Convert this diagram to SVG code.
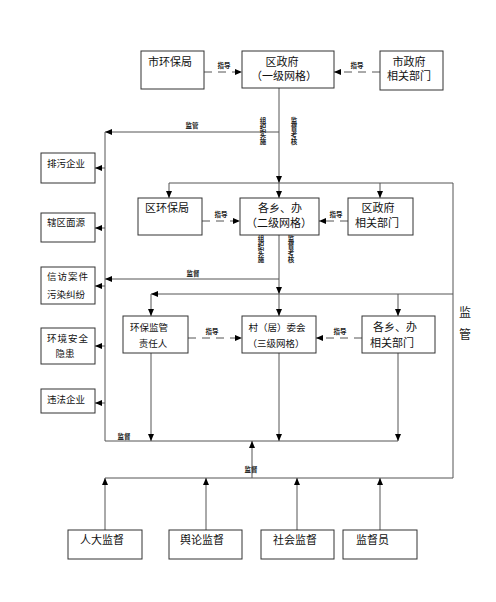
<svg xmlns="http://www.w3.org/2000/svg" width="496" height="602" viewBox="0 0 496 602">
<style>
.box{fill:#fff;stroke:#333;stroke-width:1}
.t{font-family:"Liberation Sans","Noto Sans CJK SC",sans-serif;font-size:11px;fill:#111}
.ts{font-family:"Liberation Sans","Noto Sans CJK SC",sans-serif;font-size:9.5px;fill:#111}
.lb{font-family:"Liberation Sans","Noto Sans CJK SC",sans-serif;font-size:6.5px;font-weight:bold;fill:#222}
.big{font-family:"Liberation Sans","Noto Sans CJK SC",sans-serif;font-size:12px;fill:#222}
.ln{fill:none;stroke:#555;stroke-width:1}
.ar{fill:none;stroke:#555;stroke-width:1;marker-end:url(#ah)}
.da{fill:none;stroke:#555;stroke-width:1;stroke-dasharray:8,6;marker-end:url(#ah)}
</style>
<defs>
<marker id="ah" markerUnits="userSpaceOnUse" markerWidth="7" markerHeight="6" refX="7" refY="3" orient="auto">
<path d="M0,0 L7,3 L0,6 z" fill="#000"/>
</marker>
</defs>
<rect width="496" height="602" fill="#fff"/>
<g id="connectors">
<path class="da" d="M204,72 H242"/>
<path class="da" d="M380,72 H334"/>
<path class="ar" d="M279,88 V183"/>
<path class="ar" d="M279,183 V198"/>
<path class="ar" d="M279,132 H105"/>
<path class="ln" d="M169,183 H453 V478 H105"/>
<path class="ar" d="M169,183 V198"/>
<path class="ar" d="M380,183 V198"/>
<path class="da" d="M202,221 H240"/>
<path class="da" d="M348,221 H319"/>
<path class="ar" d="M279,235 V294"/>
<path class="ar" d="M279,294 V316"/>
<path class="ar" d="M279,279 H105"/>
<path class="ar" d="M453,294 H151"/>
<path class="ar" d="M151,294 V316"/>
<path class="ar" d="M398,294 V316"/>
<path class="ln" d="M105,132 V441 H398"/>
<path class="ar" d="M105,168 H95"/>
<path class="ar" d="M105,228 H95"/>
<path class="ar" d="M105,286 H95"/>
<path class="ar" d="M105,346 H95"/>
<path class="ar" d="M105,403 H95"/>
<path class="da" d="M188,338 H242"/>
<path class="da" d="M362,338 H316"/>
<path class="ar" d="M151,353 V441"/>
<path class="ar" d="M279,353 V441"/>
<path class="ar" d="M398,353 V441"/>
<path class="ar" d="M252,478 V441"/>
<path class="ar" d="M105,530 V478"/>
<path class="ar" d="M206,530 V478"/>
<path class="ar" d="M297,530 V478"/>
<path class="ar" d="M380,530 V478"/>
<text class="lb" x="224" y="68" text-anchor="middle">指导</text>
<text class="lb" x="357" y="68" text-anchor="middle">指导</text>
<text class="lb" x="192" y="128" text-anchor="middle">监管</text>
<text class="lb" x="263" text-anchor="middle"><tspan x="263" y="123">组</tspan><tspan x="263" y="130">织</tspan><tspan x="263" y="137">实</tspan><tspan x="263" y="144">施</tspan></text>
<text class="lb" x="294" text-anchor="middle"><tspan x="294" y="123">监</tspan><tspan x="294" y="130">督</tspan><tspan x="294" y="137">考</tspan><tspan x="294" y="144">核</tspan></text>
<text class="lb" x="221" y="217" text-anchor="middle">指导</text>
<text class="lb" x="336" y="217" text-anchor="middle">指导</text>
<text class="lb" x="261" text-anchor="middle"><tspan x="261" y="241">组</tspan><tspan x="261" y="248">织</tspan><tspan x="261" y="255">实</tspan><tspan x="261" y="262">施</tspan></text>
<text class="lb" x="291" text-anchor="middle"><tspan x="291" y="241">监</tspan><tspan x="291" y="248">督</tspan><tspan x="291" y="255">考</tspan><tspan x="291" y="262">核</tspan></text>
<text class="lb" x="193" y="276" text-anchor="middle">监督</text>
<text class="lb" x="212" y="334" text-anchor="middle">指导</text>
<text class="lb" x="340" y="334" text-anchor="middle">指导</text>
<text class="lb" x="124" y="439" text-anchor="middle">监督</text>
<text class="lb" x="251" y="472" text-anchor="middle">监督</text>
<text class="big" x="465" y="317" text-anchor="middle">监</text>
<text class="big" x="465" y="339" text-anchor="middle">管</text>
</g>
<g id="n-shihuanbao"><rect class="box" x="141" y="51" width="63" height="38"/><text class="t" x="148" y="66">市环保局</text></g>
<g id="n-quzhengfu"><rect class="box" x="242" y="51" width="92" height="37"/><text class="t" x="282" y="66" text-anchor="middle">区政府</text><text class="t" x="284" y="80" text-anchor="middle">（一级网格）</text></g>
<g id="n-shizhengfu"><rect class="box" x="380" y="51" width="63" height="39"/><text class="t" x="409" y="66" text-anchor="middle">市政府</text><text class="t" x="409" y="80" text-anchor="middle">相关部门</text></g>
<g id="n-quhuanbao"><rect class="box" x="138" y="198" width="64" height="37"/><text class="t" x="145" y="212">区环保局</text></g>
<g id="n-gexiang"><rect class="box" x="240" y="198" width="79" height="37"/><text class="t" x="280" y="212" text-anchor="middle">各乡、办</text><text class="t" x="279" y="227" text-anchor="middle">（二级网格）</text></g>
<g id="n-quzfbm"><rect class="box" x="348" y="198" width="65" height="37"/><text class="t" x="378" y="212" text-anchor="middle">区政府</text><text class="t" x="377" y="227" text-anchor="middle">相关部门</text></g>
<g id="n-paiwu"><rect class="box" x="41" y="153" width="54" height="30"/><text class="ts" x="47" y="167">排污企业</text></g>
<g id="n-xiaqu"><rect class="box" x="41" y="213" width="54" height="29"/><text class="ts" x="47" y="226">辖区面源</text></g>
<g id="n-xinfang"><rect class="box" x="41" y="267" width="54" height="37"/><text class="ts" x="47" y="280" letter-spacing="1">信访案件</text><text class="ts" x="47" y="298">污染纠纷</text></g>
<g id="n-huanjing"><rect class="box" x="41" y="328" width="54" height="36"/><text class="ts" x="47" y="342" letter-spacing="1">环境安全</text><text class="ts" x="65" y="357" text-anchor="middle">隐患</text></g>
<g id="n-weifa"><rect class="box" x="41" y="389" width="54" height="24"/><text class="ts" x="47" y="403">违法企业</text></g>
<g id="n-zerenren"><rect class="box" x="123" y="316" width="65" height="37"/><text class="ts" x="130" y="331">环保监管</text><text class="ts" x="153" y="347" text-anchor="middle">责任人</text></g>
<g id="n-cun"><rect class="box" x="242" y="316" width="74" height="37"/><text class="ts" x="277" y="331" text-anchor="middle">村（居）委会</text><text class="ts" x="276" y="347" text-anchor="middle">（三级网格）</text></g>
<g id="n-gexiangbm"><rect class="box" x="362" y="316" width="73" height="37"/><text class="t" x="395" y="331" text-anchor="middle">各乡、办</text><text class="t" x="392" y="347" text-anchor="middle">相关部门</text></g>
<g id="n-renda"><rect class="box" x="68" y="530" width="74" height="29"/><text class="t" x="80" y="544">人大监督</text></g>
<g id="n-yulun"><rect class="box" x="169" y="530" width="73" height="29"/><text class="t" x="180" y="544">舆论监督</text></g>
<g id="n-shehui"><rect class="box" x="261" y="530" width="73" height="29"/><text class="t" x="273" y="544">社会监督</text></g>
<g id="n-jianduyuan"><rect class="box" x="343" y="530" width="74" height="29"/><text class="t" x="356" y="544">监督员</text></g>
</svg>
